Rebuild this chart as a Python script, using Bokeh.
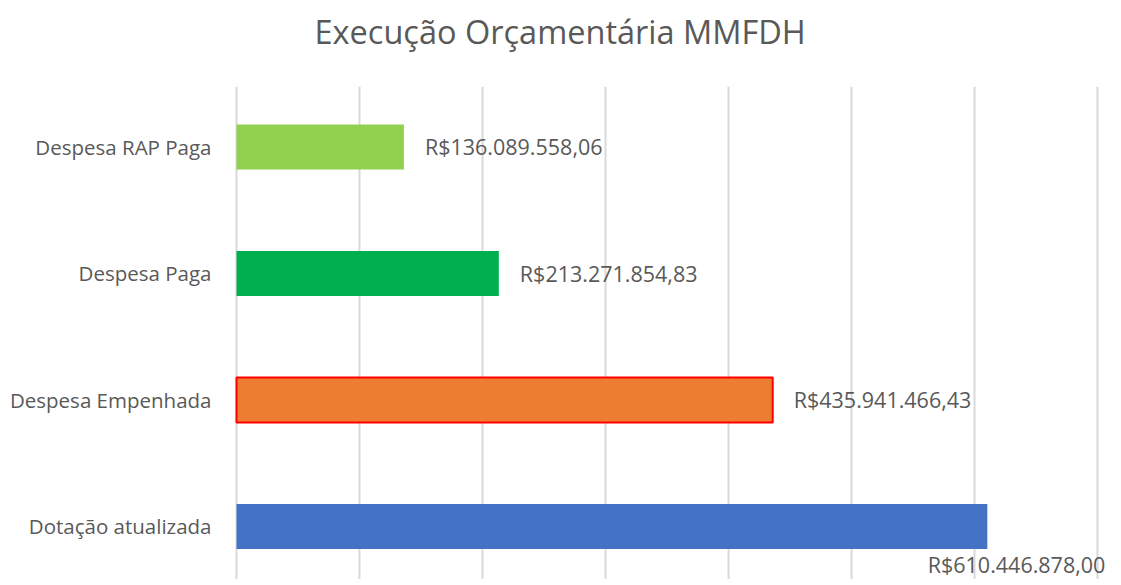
from bokeh.plotting import figure
from bokeh.models import Range1d, FixedTicker, SingleIntervalTicker, ColumnDataSource
from bokeh.core.properties import value
from bokeh.embed import file_html
from bokeh.resources import INLINE

# Data (bottom to top)
categories = ["Dotação atualizada", "Despesa Empenhada", "Despesa Paga", "Despesa RAP Paga"]
values = [610446878.00, 435941466.43, 213271854.83, 136089558.06]
colors = ["#4472C4", "#ED7D31", "#00B050", "#92D050"]
outline_alpha = [0, 1, 0, 0]

title_text = "Execução Orçamentária MMFDH"
TEXT = "#595959"
FONT = "Open Sans"


def brl(v):
    s = f"{v:,.2f}"
    s = s.replace(",", "X").replace(".", ",").replace("X", ".")
    return "R$" + s


ypos = list(range(len(categories)))
labels = [brl(v) for v in values]

src = ColumnDataSource(dict(y=ypos, v=values, c=colors, la=outline_alpha, lab=labels))

W, H = 1105, 579
BL, BT = 234, 86
p = figure(width=W, height=H, output_backend="svg", toolbar_location=None,
           x_range=Range1d(-1.63e6, 706.5e6), y_range=Range1d(-0.419, 3.478),
           min_border_left=BL, min_border_right=0, min_border_bottom=0, min_border_top=BT,
           title=title_text + "\n")

p.title.text_font = FONT
p.title.text_font_size = "32.5px"
p.title.text_font_style = "normal"
p.title.text_color = TEXT
p.title.text_line_height = 0.72
p.title.align = "left"
p.title.offset = 80
p.title.standoff = 0

p.hbar(y="y", left=0, right="v", height=0.355, fill_color="c", line_color="#FF0000",
       line_alpha="la", line_width=2, source=src)

# labels outside end for bars 1..3, below-end for the long bar
src_a = ColumnDataSource(dict(y=ypos[1:], v=values[1:], lab=labels[1:]))
src_b = ColumnDataSource(dict(y=ypos[:1], v=values[:1], lab=labels[:1]))
p.text(x="v", y="y", text="lab", source=src_a, x_offset=21,
       text_font=value(FONT), text_font_size=value("21.5px"), text_color=TEXT,
       text_align="left", text_baseline="middle")
p.text(x="v", y="y", text="lab", source=src_b, x_offset=118, y_offset=38,
       text_font=value(FONT), text_font_size=value("21.5px"), text_color=TEXT,
       text_align="right", text_baseline="middle")

p.xaxis.visible = False
p.xaxis.ticker = SingleIntervalTicker(interval=1e8)
p.xgrid.ticker = SingleIntervalTicker(interval=1e8)
p.xgrid.grid_line_color = "#D9D9D9"
p.xgrid.grid_line_width = 2
p.ygrid.grid_line_color = None

p.yaxis.ticker = FixedTicker(ticks=ypos)
p.yaxis.major_label_overrides = {i: c for i, c in zip(ypos, categories)}
p.yaxis.axis_line_color = None
p.yaxis.major_tick_line_color = None
p.yaxis.minor_tick_line_color = None
p.yaxis.major_label_standoff = 17
p.yaxis.major_label_text_font = FONT
p.yaxis.major_label_text_font_size = "20.5px"
p.yaxis.major_label_text_color = TEXT

p.outline_line_color = None

open("out.html", "w").write(file_html(p, INLINE))
